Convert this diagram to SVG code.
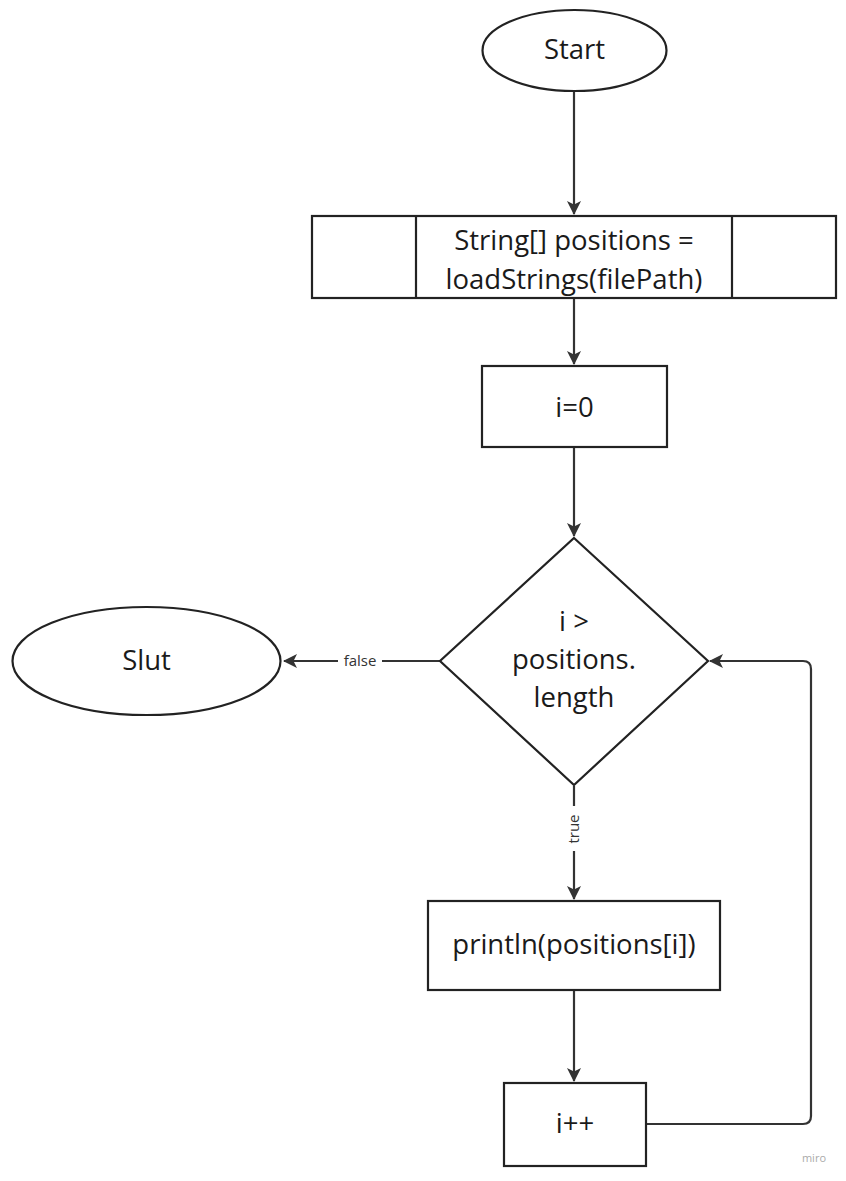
<svg xmlns="http://www.w3.org/2000/svg" width="846" height="1181" viewBox="0 0 846 1181">
<style>
.n{fill:#fff;stroke:#222;stroke-width:2.2}
.t{font-family:"Open Sans","Liberation Sans",sans-serif;font-size:27.5px;fill:#1a1a1a;text-anchor:middle}
.c{fill:none;stroke:#333;stroke-width:2.2}
.l{font-family:"Open Sans","Liberation Sans",sans-serif;font-size:15px;fill:#333;text-anchor:middle}
</style>
<defs>
<marker id="a" viewBox="0 0 14 14" refX="13" refY="7" markerWidth="14" markerHeight="14" markerUnits="userSpaceOnUse" orient="auto">
<path d="M0,0 L14,7 L0,14 L3.5,7 z" fill="#333"/>
</marker>
</defs>
<rect width="846" height="1181" fill="#fff"/>
<g id="connectors">
<path class="c" d="M574,92 V214" marker-end="url(#a)"/>
<path class="c" d="M574,298 V364" marker-end="url(#a)"/>
<path class="c" d="M574,448 V536" marker-end="url(#a)"/>
<path class="c" d="M440,661 H382 M338,661 H284" marker-end="url(#a)"/>
<text class="l" x="360" y="666">false</text>
<path class="c" d="M574,786 V806 M574,851 V899" marker-end="url(#a)"/>
<text class="l" x="574" y="834" transform="rotate(-90 574 829)">true</text>
<path class="c" d="M574,990 V1081" marker-end="url(#a)"/>
<path class="c" d="M647,1124 H803 Q811,1124 811,1116 V669 Q811,661 803,661 H710" marker-end="url(#a)"/>
</g>
<g id="start">
<ellipse class="n" cx="574.5" cy="50.5" rx="92" ry="40.5"/>
<text class="t" x="574.5" y="59">Start</text>
</g>
<g id="load">
<rect class="n" x="312" y="216" width="524" height="82"/>
<line class="n" x1="416" y1="216" x2="416" y2="298"/>
<line class="n" x1="732" y1="216" x2="732" y2="298"/>
<text class="t" x="574" y="250">String[] positions =</text>
<text class="t" x="574" y="289">loadStrings(filePath)</text>
</g>
<g id="init">
<rect class="n" x="482" y="366" width="185" height="81"/>
<text class="t" x="574.5" y="417">i=0</text>
</g>
<g id="cond">
<polygon class="n" points="574,538 708,661 574,785 440,661"/>
<text class="t" x="574" y="631">i &gt;</text>
<text class="t" x="574" y="669">positions.</text>
<text class="t" x="574" y="707">length</text>
</g>
<g id="slut">
<ellipse class="n" cx="146.5" cy="661" rx="134" ry="54"/>
<text class="t" x="146.5" y="670">Slut</text>
</g>
<g id="print">
<rect class="n" x="428" y="901" width="292" height="89"/>
<text class="t" x="574" y="954">println(positions[i])</text>
</g>
<g id="inc">
<rect class="n" x="504" y="1083" width="142" height="83"/>
<text class="t" x="575" y="1133">i++</text>
</g>
<text x="826" y="1162" font-family="'Open Sans','Liberation Sans',sans-serif" font-size="11" fill="#aaa" text-anchor="end">miro</text>
</svg>
